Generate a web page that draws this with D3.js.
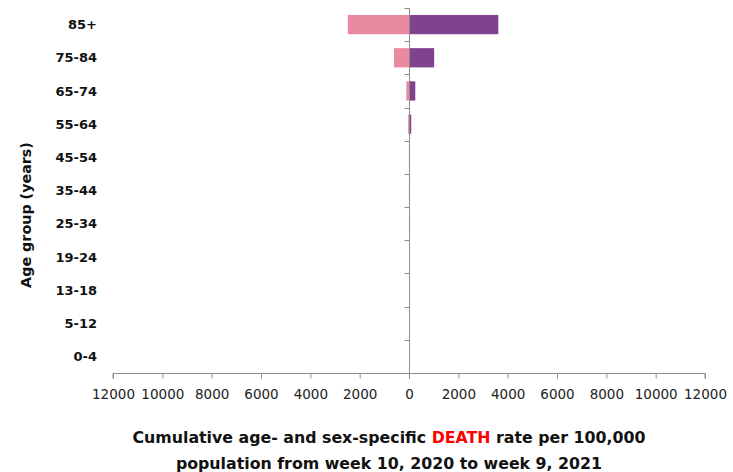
<!DOCTYPE html>
<html><head><meta charset="utf-8">
<script src="https://cdn.jsdelivr.net/npm/d3@7"></script>
<style>
body{margin:0;background:#fff;}
text{font-family:"DejaVu Sans",sans-serif;}
</style></head>
<body><svg id="c" width="733" height="472"></svg>
<script>
const ageGroups = ["85+","75-84","65-74","55-64","45-54","35-44","25-34","19-24","13-18","5-12","0-4"];
const femaleRate = [2480, 610, 110, 35, 5, 2, 1, 0, 0, 0, 0];
const maleRate   = [3620, 1020, 255, 90, 12, 4, 1, 0, 0, 0, 0];
const xTicks = [-12000,-10000,-8000,-6000,-4000,-2000,0,2000,4000,6000,8000,10000,12000];

const svg = d3.select("#c");
const x = d3.scaleLinear().domain([-12000,12000]).range([113,705]);
const y = d3.scaleBand().domain(ageGroups).range([8,373]).paddingInner(0.42).paddingOuter(0.21);
const axisCol = "#8c8c8c";

// bars
const g = svg.append("g");
g.selectAll(".f").data(ageGroups).join("rect")
  .attr("x", (d,i)=>x(-femaleRate[i])).attr("y", d=>y(d))
  .attr("width", (d,i)=>x(0)-x(-femaleRate[i])).attr("height", y.bandwidth())
  .attr("fill","#e98aa2");
g.selectAll(".m").data(ageGroups).join("rect")
  .attr("x", x(0)).attr("y", d=>y(d))
  .attr("width", (d,i)=>x(maleRate[i])-x(0)).attr("height", y.bandwidth())
  .attr("fill","#80418d");

// x axis
const xa = svg.append("g").attr("transform","translate(0,373.5)")
  .call(d3.axisBottom(x).tickValues(xTicks).tickSize(5).tickPadding(11).tickFormat(d=>String(Math.abs(d))));
xa.select(".domain").attr("stroke",axisCol).attr("d",`M${x(-12000)},5V0H${x(12000)}V5`);
xa.selectAll(".tick line").attr("stroke",axisCol);
xa.selectAll(".tick text").attr("font-size",13.5).attr("fill","#222").style("font-family","'DejaVu Sans',sans-serif");

// y axis at zero
const ya = svg.append("g").attr("transform",`translate(${x(0)+0.5},0)`);
ya.append("line").attr("x1",0).attr("x2",0).attr("y1",8).attr("y2",379).attr("stroke",axisCol);
const step = y.step();
const bounds = d3.range(ageGroups.length).map(i=>8+i*step);
ya.selectAll(".tk").data(bounds).join("line")
  .attr("x1",-5).attr("x2",0).attr("y1",d=>Math.round(d)+0.5).attr("y2",d=>Math.round(d)+0.5).attr("stroke",axisCol);

// category labels
svg.append("g").selectAll("text").data(ageGroups).join("text")
  .attr("x",97).attr("y",d=>y(d)+y.bandwidth()/2).attr("dy","0.36em")
  .attr("text-anchor","end").attr("font-size",13).attr("font-weight","bold").attr("fill","#111")
  .text(d=>d);

// y title
svg.append("text").attr("transform","translate(31,215) rotate(-90)")
  .attr("text-anchor","middle").attr("font-size",14.3).attr("font-weight","bold").attr("fill","#111")
  .text("Age group (years)");

// x title
const t1 = svg.append("text").attr("x",389).attr("y",443).attr("text-anchor","middle")
  .attr("font-size",15.8).attr("font-weight","bold").attr("fill","#111");
t1.append("tspan").text("Cumulative age- and sex-specific ");
t1.append("tspan").attr("fill","#ff0000").text("DEATH");
t1.append("tspan").text(" rate per 100,000");
svg.append("text").attr("x",389).attr("y",469).attr("text-anchor","middle")
  .attr("font-size",15.8).attr("font-weight","bold").attr("fill","#111")
  .text("population from week 10, 2020 to week 9, 2021");
</script></body></html>
